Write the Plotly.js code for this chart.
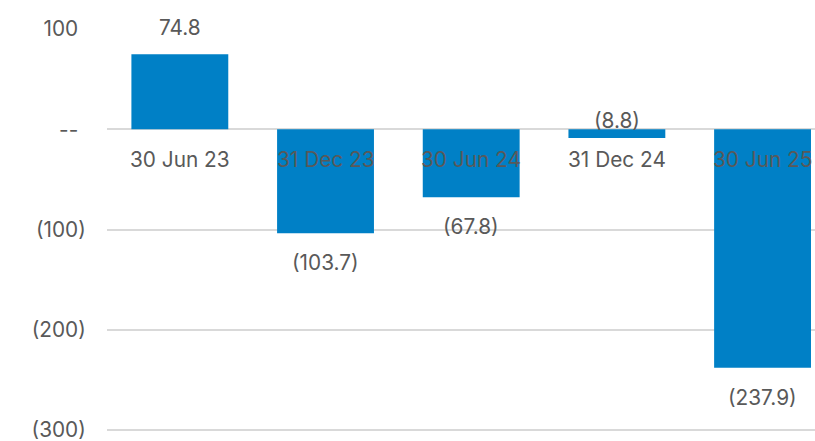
<!DOCTYPE html>
<html><head><meta charset="utf-8">
<script src="https://cdn.plot.ly/plotly-3.0.1.min.js"></script>
<style>html,body{margin:0;padding:0;background:#fff}#c{width:815px;height:441px}</style>
</head><body><div id="c"></div>
<script>
const categories = ["30 Jun 23", "31 Dec 23", "30 Jun 24", "31 Dec 24", "30 Jun 25"];
const values = [74.8, -103.7, -67.8, -8.8, -237.9];
const tickVals = [100, 0, -100, -200, -300];
const tickText = ["100", "--", "(100)", "(200)", "(300)"];

const fmt = v => v < 0 ? "(" + Math.abs(v).toFixed(1) + ")" : v.toFixed(1);
const FONT = "Inter, 'Open Sans', sans-serif";
const GREY = "#595959";
const FS = 20.8;
// positive ticks get an invisible ")" pad, like an accounting number format
const tickTextPadded = tickText.map(t => t.endsWith(")") ? t : t + "<span style='color:rgba(0,0,0,0)'>)</span>");

const annotations = [];
categories.forEach((c, i) => {
  annotations.push({x: c, y: 0, xref: "x", yref: "y", text: c, showarrow: false,
    yanchor: "top", yshift: -16, font: {family: FONT, size: FS, color: GREY}});
  const v = values[i];
  const small = Math.abs(v) < 20;
  let a = {x: c, xref: "x", yref: "y", text: fmt(v), showarrow: false,
    font: {family: FONT, size: FS, color: GREY}};
  if (v >= 0) { a.y = v; a.yanchor = "bottom"; a.yshift = 12; }
  else if (small) { a.y = 0; a.yanchor = "bottom"; a.yshift = -6; }
  else { a.y = v; a.yanchor = "top"; a.yshift = -15; }
  annotations.push(a);
});

Plotly.newPlot("c", [{
  type: "bar", x: categories, y: values, width: 0.665,
  marker: {color: "#0080C6"}, hoverinfo: "none"
}], {
  width: 815, height: 441,
  margin: {l: 107, r: 0, t: 28, b: 8},
  paper_bgcolor: "#fff", plot_bgcolor: "#fff",
  showlegend: false,
  xaxis: {type: "category", range: [-0.5, 4.36], showticklabels: false, showgrid: false,
    zeroline: false, showline: false, ticks: ""},
  yaxis: {range: [-303, 101], tickvals: tickVals, ticktext: tickTextPadded, ticklabeloverflow: "allow",
    showgrid: true, gridcolor: "#d9d9d9", gridwidth: 2, zeroline: true, zerolinecolor: "#d9d9d9", zerolinewidth: 2,
    ticks: "outside", ticklen: 16, tickcolor: "rgba(0,0,0,0)", showline: false,
    tickfont: {family: FONT, size: FS, color: GREY}},
  annotations: annotations
}, {staticPlot: true});
</script></body></html>
